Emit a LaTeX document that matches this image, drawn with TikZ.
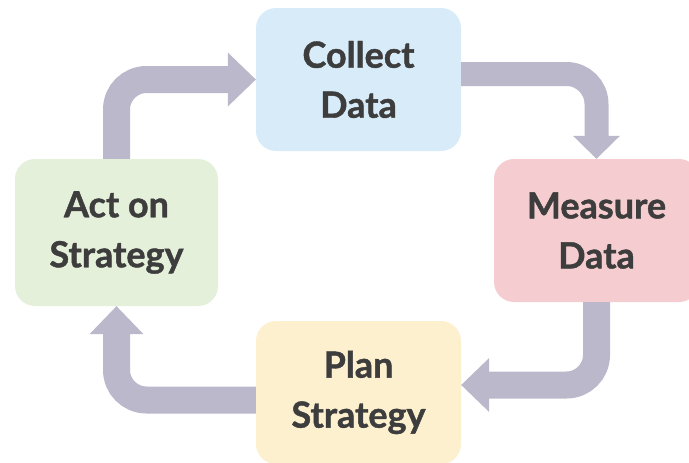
\documentclass[tikz,border=0pt]{standalone}
\usepackage{fontspec}
\setmainfont{Lato}[BoldFeatures={FakeBold=1.2}]
\usetikzlibrary{arrows.meta}

\definecolor{txtgray}{HTML}{3D3D3D}
\definecolor{arrowgray}{HTML}{BAB8CA}
\definecolor{collectblue}{HTML}{D7EBF8}
\definecolor{measurepink}{HTML}{F5CCCF}
\definecolor{planyellow}{HTML}{FDF0CE}
\definecolor{actgreen}{HTML}{E4F0DA}

\tikzset{
	stage/.style={rectangle, rounded corners=20pt, minimum width=205pt, minimum height=143pt, inner sep=0pt, align=center, text=txtgray, font=\fontsize{36}{50}\selectfont\bfseries},
	flow/.style={draw=arrowgray, line width=27pt, rounded corners=30pt, -{Triangle[width=54pt, length=28pt, line width=0pt]}},
}

\begin{document}
\begin{tikzpicture}[x=1pt, y=-1pt]
		\useasboundingbox (0,0) rectangle (689,463);
		\begin{scope}[every node/.style={stage}]
			\node[fill=collectblue] (C) at (358.5,79.5) {Collect\\Data};
			\node[fill=measurepink] (M) at (596.5,230.5) {Measure\\Data};
			\node[fill=planyellow] (P) at (358.5,392.5) {Plan\\Strategy};
			\node[fill=actgreen, minimum width=203pt, minimum height=147pt] (A) at (116.5,232.5) {Act on\\Strategy};
		\end{scope}

		\begin{scope}
			\draw[flow, line width=24pt, -{Triangle[width=47pt, length=23pt, line width=0pt]}] ([yshift=5.5pt]C.east) -| (M.north);
			\draw[flow] (M.south) |- ([yshift=7.5pt]P.east);
			\draw[flow] ([yshift=-7.5pt]P.west) -| (A.south);
			\draw[flow] (A.north) |- (C.west);
		\end{scope}
\end{tikzpicture}
\end{document}
